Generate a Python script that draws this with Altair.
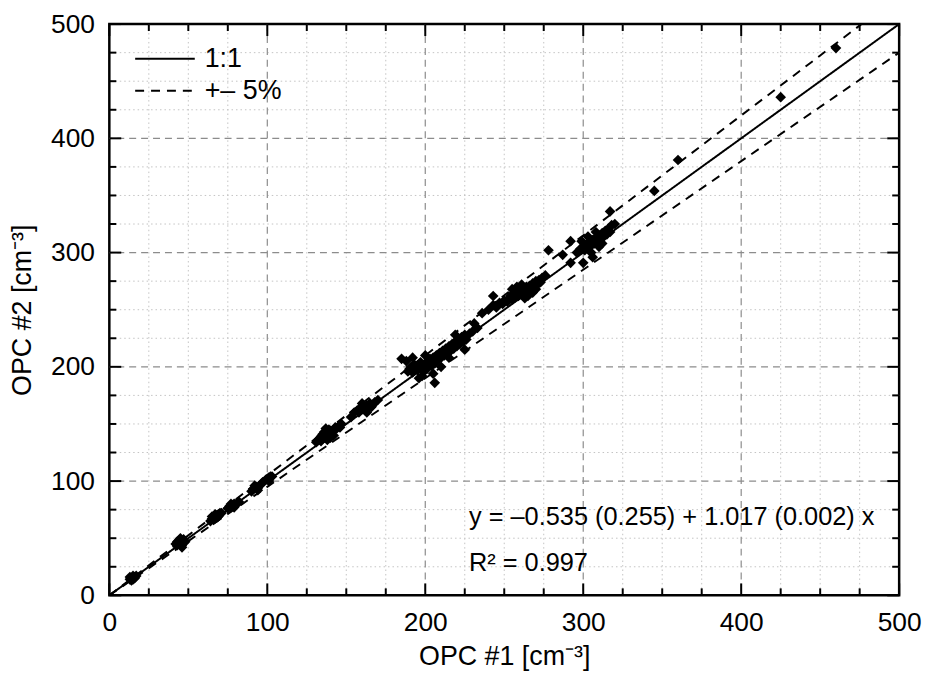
import altair as alt
import pandas as pd

# ---- data ----
opc1 = [13, 14, 15, 16, 14, 15, 16, 13, 17, 15,
        43, 44, 45, 46, 47, 45, 44, 46, 43, 47, 45, 48, 42, 46,
        64, 65, 66, 67, 68, 69, 70, 66, 68, 67, 65, 69, 71,
        75, 76, 77, 78, 79, 80, 81, 77, 79, 82,
        90, 91, 92, 93, 94, 95, 96, 94, 92, 97,
        99, 100, 101, 102, 103, 101,
        131, 132, 133, 134, 135, 135, 136, 136, 137, 138, 139, 139, 140, 141, 142, 142, 143, 144, 145, 146, 134, 137, 138, 140, 147,
        153, 155, 157, 158, 159, 160, 161, 162, 163, 164, 165, 166, 167, 168, 170, 160, 163,
        185, 188, 189, 190, 191, 192, 193, 194, 195, 196, 197, 198, 199, 200, 201, 202, 203, 204, 205, 206, 207, 208, 209, 210,
        211, 212, 213, 214, 215, 216, 217, 218, 219, 220, 221, 222, 223, 224, 225, 226, 228, 230, 233,
        206, 205, 198, 210, 215, 219, 225, 192, 200, 196,
        231, 236, 240, 243, 245, 247, 249, 250, 252, 253, 254, 255, 256, 257, 258, 259, 260, 261, 262, 263, 264, 265, 266, 267,
        268, 269, 270, 271, 272, 273, 274, 263, 265, 268, 258, 261, 270, 255, 243, 276,
        287, 292, 292, 300, 296, 298, 300, 301, 302, 303, 304, 305, 306, 307, 308, 309, 310, 311, 312, 313, 314, 315, 316, 317,
        318, 317, 305, 310, 303, 308, 312, 306, 299, 320,
        278, 345, 360, 425, 460]
opc2 = [14, 15, 16, 16, 13, 14, 15, 16, 17, 17,
        44, 46, 47, 48, 46, 45, 48, 44, 47, 49, 50, 47, 45, 42,
        65, 67, 68, 69, 70, 71, 72, 66, 68, 71, 69, 69, 72,
        76, 78, 77, 79, 80, 79, 81, 80, 77, 82,
        91, 93, 94, 95, 94, 96, 97, 92, 96, 99,
        101, 102, 103, 104, 104, 100,
        134, 136, 137, 139, 137, 141, 138, 143, 140, 141, 142, 145, 144, 143, 145, 140, 147, 146, 148, 147, 135, 146, 136, 138, 150,
        156, 160, 162, 160, 164, 163, 165, 162, 166, 165, 168, 165, 167, 169, 171, 168, 160,
        207, 205, 196, 198, 200, 195, 202, 199, 197, 201, 204, 200, 196, 203, 198, 205, 207, 201, 208, 203, 210, 206, 212, 208,
        214, 210, 216, 212, 218, 214, 220, 216, 222, 218, 224, 220, 226, 222, 228, 224, 229, 231, 234,
        186, 194, 192, 200, 208, 228, 215, 208, 210, 190,
        238, 247, 250, 262, 252, 256, 255, 258, 257, 260, 262, 259, 263, 261, 265, 262, 266, 264, 268, 265, 270, 267, 271, 268,
        273, 270, 275, 272, 276, 274, 278, 260, 262, 265, 270, 272, 268, 268, 254, 280,
        298, 310, 291, 291, 300, 303, 305, 302, 307, 304, 309, 306, 311, 308, 313, 310, 315, 312, 317, 314, 319, 316, 321, 318,
        324, 336, 300, 305, 314, 318, 308, 296, 310, 325,
        302, 354, 381, 436, 479]

major_ticks = [0, 100, 200, 300, 400, 500]
minor_ticks = [25, 50, 75, 125, 150, 175, 225, 250, 275, 325, 350, 375, 425, 450, 475]
grid_major = [100, 200, 300, 400]

line_series = ["1:1", "1:1", "+– 5%", "+– 5%", "+– 5%", "+– 5%"]
line_group = ["a", "a", "b", "b", "c", "c"]
line_x = [0, 500, 0, 500, 0, 500]
line_y = [0, 500, 0, 525, 0, 475]

legend_labels = ["1:1", "+– 5%"]
fit_text = "y = –0.535 (0.255) + 1.017 (0.002) x"
r2_text = "R² = 0.997"
x_title = "OPC #1 [cm⁻³]"
y_title = "OPC #2 [cm⁻³]"

W, H = 795, 575
FONT = "Liberation Sans"
DASH = [9, 7]

pts = pd.DataFrame({"x": opc1, "y": opc2})
lines = pd.DataFrame({"x": line_x, "y": line_y, "series": line_series, "grp": line_group})
maj = pd.DataFrame({"v": major_ticks})
mnr = pd.DataFrame({"v": minor_ticks})
gmaj = pd.DataFrame({"v": grid_major})

xs = alt.Scale(domain=[0, 500], nice=False, zero=False)
ys = alt.Scale(domain=[0, 500], nice=False, zero=False)
ax_x = alt.Axis(values=major_ticks, ticks=False, grid=False, domain=False,
                labelFlush=False, labelOverlap=False,
                labelPadding=14, titlePadding=8)
ax_y = alt.Axis(values=major_ticks, ticks=False, grid=False, domain=False,
                labelFlush=False, labelOverlap=False,
                labelPadding=15, titlePadding=14)

def X(f):
    return alt.X(f, scale=xs, title=x_title, axis=ax_x)

def Y(f):
    return alt.Y(f, scale=ys, title=y_title, axis=ax_y)

def vgrid(df, **kw):
    return alt.Chart(df).mark_rule(**kw).encode(x=X("v:Q"))

def hgrid(df, **kw):
    return alt.Chart(df).mark_rule(**kw).encode(y=Y("v:Q"))

minor_style = dict(color="#c4c4c4", strokeDash=[1.5, 3], strokeWidth=1)
major_style = dict(color="#8c8c8c", strokeDash=[7, 5], strokeWidth=1.2)

grids = [vgrid(mnr, **minor_style), hgrid(mnr, **minor_style),
         vgrid(gmaj, **major_style), hgrid(gmaj, **major_style)]

def ticks(df, length):
    b = alt.Chart(df).mark_rule(color="black", strokeWidth=2)
    return [
        b.encode(x=X("v:Q"), y=alt.value(H), y2=alt.value(H - length)),
        b.encode(x=X("v:Q"), y=alt.value(0), y2=alt.value(length)),
        b.encode(y=Y("v:Q"), x=alt.value(0), x2=alt.value(length)),
        b.encode(y=Y("v:Q"), x=alt.value(W), x2=alt.value(W - length)),
    ]

tick_layers = ticks(maj, 12) + ticks(mnr, 7)

line_layer = alt.Chart(lines).mark_line(color="black", strokeWidth=2, clip=True).encode(
    x=X("x:Q"),
    y=Y("y:Q"),
    detail="grp:N",
    strokeDash=alt.StrokeDash(
        "series:N",
        scale=alt.Scale(domain=legend_labels, range=[[1, 0], DASH]),
        legend=None,
    ),
)

point_layer = alt.Chart(pts).mark_point(
    shape="diamond", filled=True, size=115, color="black", opacity=1
).encode(x=X("x:Q"), y=Y("y:Q"))

# legend (inside, top-left)
LY1, LY2 = 35, 67
leg = pd.DataFrame({"label": legend_labels})
leg_solid = alt.Chart(leg.iloc[[0]]).mark_rule(color="black", strokeWidth=2).encode(
    x=alt.value(26), x2=alt.value(86), y=alt.value(LY1))
leg_dash = alt.Chart(leg.iloc[[1]]).mark_rule(color="black", strokeWidth=2, strokeDash=DASH).encode(
    x=alt.value(26), x2=alt.value(86), y=alt.value(LY2))
leg_t1 = alt.Chart(leg.iloc[[0]]).mark_text(
    align="left", baseline="middle", fontSize=27, font=FONT, color="black"
).encode(x=alt.value(96), y=alt.value(LY1), text="label:N")
leg_t2 = alt.Chart(leg.iloc[[1]]).mark_text(
    align="left", baseline="middle", fontSize=27, font=FONT, color="black"
).encode(x=alt.value(96), y=alt.value(LY2), text="label:N")

text_layer = alt.Chart(pd.DataFrame({"t": [fit_text]})).mark_text(
    align="left", baseline="middle", fontSize=25.5, font=FONT, color="black"
).encode(x=alt.value(362), y=alt.value(496), text="t:N")

r2_layer = alt.Chart(pd.DataFrame({"t": [r2_text]})).mark_text(
    align="left", baseline="middle", fontSize=25.5, font=FONT, color="black"
).encode(x=alt.value(362), y=alt.value(543), text="t:N")

chart = alt.layer(
    *grids, line_layer, point_layer, *tick_layers,
    leg_solid, leg_dash, leg_t1, leg_t2, text_layer, r2_layer
).properties(
    width=W, height=H,
    autosize=alt.AutoSizeParams(type="none"),
    padding={"left": 102, "top": 14, "right": 24, "bottom": 77},
).configure_view(stroke="black", strokeWidth=2.5).configure_axis(
    labelFont=FONT, titleFont=FONT, labelFontSize=26.5, titleFontSize=27,
    labelColor="black", titleColor="black", titleFontWeight="normal",
)

chart.save("out.html", embed_options={"renderer": "svg", "actions": False})
